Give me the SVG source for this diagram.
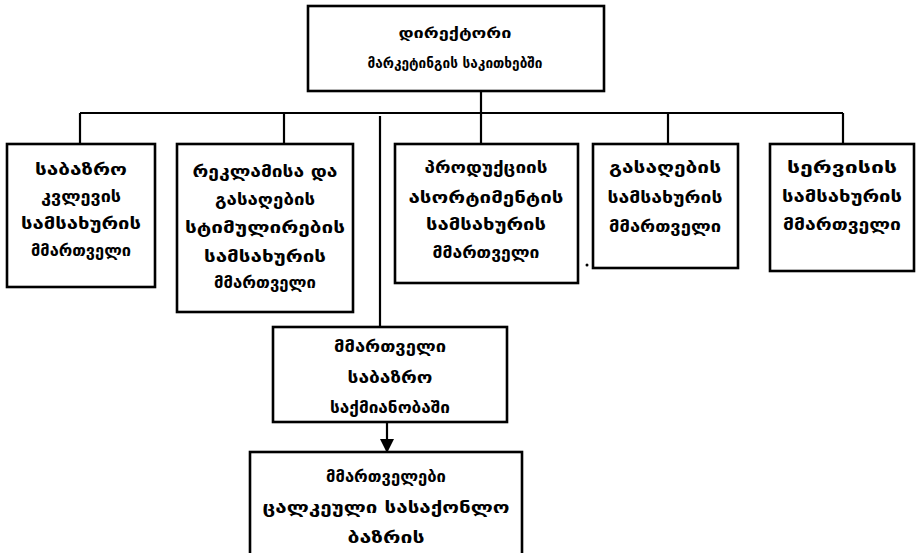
<svg xmlns="http://www.w3.org/2000/svg" width="920" height="553" viewBox="0 0 920 553">
<style>
.box{fill:#fff;stroke:#000;stroke-width:2.6}
.ln{fill:none;stroke:#000;stroke-width:2.2}
text{font-family:"DejaVu Sans","Noto Sans",sans-serif;font-weight:bold;font-size:16px;fill:#000;text-anchor:middle}
.top{font-size:15px}
</style>
<defs>
<marker id="ah" markerWidth="14" markerHeight="14" refX="13" refY="7" orient="auto" markerUnits="userSpaceOnUse">
<path d="M0,0 L14,7 L0,14 Z" fill="#000"/>
</marker>
</defs>
<rect width="920" height="553" fill="#fff"/>
<g id="connectors">
<path class="ln" d="M481,91 V143"/>
<path class="ln" d="M80,113 H843"/>
<path class="ln" d="M80,113 V143"/>
<path class="ln" d="M284,113 V143"/>
<path class="ln" d="M668,113 V143"/>
<path class="ln" d="M843,113 V143"/>
<path class="ln" d="M380,116 V327"/>
<path class="ln" d="M387,422 V452" marker-end="url(#ah)"/>
<circle cx="587" cy="265" r="1.5" fill="#000"/>
</g>
<g id="director">
<rect class="box" x="308" y="6" width="296" height="85"/>
<text class="top" x="455" y="38" textLength="113" lengthAdjust="spacingAndGlyphs">დირექტორი</text>
<text class="top" x="455" y="68" textLength="175" lengthAdjust="spacingAndGlyphs">მარკეტინგის საკითხებში</text>
</g>
<g id="market-research">
<rect class="box" x="7" y="144" width="148" height="143"/>
<text x="81" y="175" textLength="92" lengthAdjust="spacingAndGlyphs">საბაზრო</text>
<text x="81" y="202" textLength="80" lengthAdjust="spacingAndGlyphs">კვლევის</text>
<text x="81" y="229" textLength="120" lengthAdjust="spacingAndGlyphs">სამსახურის</text>
<text x="81" y="256" textLength="100" lengthAdjust="spacingAndGlyphs">მმართველი</text>
</g>
<g id="advertising">
<rect class="box" x="177" y="144" width="176" height="168"/>
<text x="265" y="177" textLength="145" lengthAdjust="spacingAndGlyphs">რეკლამისა და</text>
<text x="265" y="205" textLength="100" lengthAdjust="spacingAndGlyphs">გასაღების</text>
<text x="265" y="233" textLength="160" lengthAdjust="spacingAndGlyphs">სტიმულირების</text>
<text x="265" y="262" textLength="122" lengthAdjust="spacingAndGlyphs">სამსახურის</text>
<text x="265" y="288" textLength="102" lengthAdjust="spacingAndGlyphs">მმართველი</text>
</g>
<g id="assortment">
<rect class="box" x="395" y="144" width="183" height="139"/>
<text x="486" y="173" textLength="123" lengthAdjust="spacingAndGlyphs">პროდუქციის</text>
<text x="486" y="203" textLength="155" lengthAdjust="spacingAndGlyphs">ასორტიმენტის</text>
<text x="486" y="230" textLength="120" lengthAdjust="spacingAndGlyphs">სამსახურის</text>
<text x="486" y="258" textLength="107" lengthAdjust="spacingAndGlyphs">მმართველი</text>
</g>
<g id="sales">
<rect class="box" x="593" y="144" width="145" height="124"/>
<text x="665" y="173" textLength="112" lengthAdjust="spacingAndGlyphs">გასაღების</text>
<text x="665" y="203" textLength="115" lengthAdjust="spacingAndGlyphs">სამსახურის</text>
<text x="665" y="232" textLength="112" lengthAdjust="spacingAndGlyphs">მმართველი</text>
</g>
<g id="service">
<rect class="box" x="770" y="144" width="144" height="127"/>
<text x="842" y="173" textLength="110" lengthAdjust="spacingAndGlyphs">სერვისის</text>
<text x="842" y="202" textLength="120" lengthAdjust="spacingAndGlyphs">სამსახურის</text>
<text x="842" y="230" textLength="118" lengthAdjust="spacingAndGlyphs">მმართველი</text>
</g>
<g id="market-manager">
<rect class="box" x="273" y="327" width="234" height="95"/>
<text x="390" y="352" textLength="112" lengthAdjust="spacingAndGlyphs">მმართველი</text>
<text x="390" y="383" textLength="85" lengthAdjust="spacingAndGlyphs">საბაზრო</text>
<text x="390" y="413" textLength="120" lengthAdjust="spacingAndGlyphs">საქმიანობაში</text>
</g>
<g id="product-managers">
<rect class="box" x="250" y="452" width="272" height="103"/>
<text x="386" y="482" textLength="120" lengthAdjust="spacingAndGlyphs">მმართველები</text>
<text x="386" y="513" textLength="247" lengthAdjust="spacingAndGlyphs">ცალკეული სასაქონლო</text>
<text x="386" y="543" textLength="77" lengthAdjust="spacingAndGlyphs">ბაზრის</text>
</g>
</svg>
